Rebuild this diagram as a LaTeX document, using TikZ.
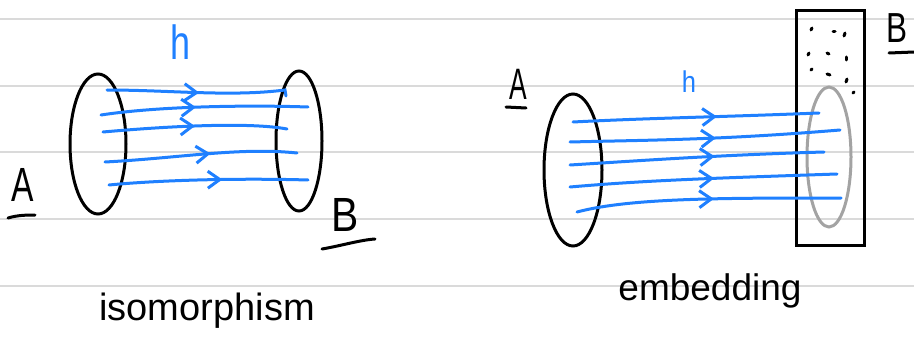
\documentclass[tikz,border=0pt]{standalone}
\usepackage{fontspec}
\setmainfont{Liberation Sans}
\usetikzlibrary{shapes.geometric,arrows.meta,decorations.markings}
\definecolor{penblue}{HTML}{1F80FF}
\definecolor{ruleclr}{HTML}{DADADA}
\definecolor{pengray}{HTML}{A3A3A3}
\tikzset{
  ruleline/.style={ruleclr,line width=1.3pt},
  ink/.style={draw=black,line width=3pt,line cap=round},
  setshape/.style={ellipse,draw=black,line width=3pt,inner sep=0pt},
  mapline/.style={penblue,line width=3pt,line cap=round,postaction={decorate},
    decoration={markings,mark=at position #1 with {\arrow{Straight Barb[length=12pt,width=17pt,line width=3pt]}}}},
  mapline/.default=0.5,
  bluelabel/.style={text=penblue,inner sep=0pt},
  blacklabel/.style={text=black,inner sep=0pt},
  speck/.style={black,line width=3pt,line cap=round},
}
\begin{document}
\begin{tikzpicture}[x=1pt,y=-1pt]
\useasboundingbox (0,0) rectangle (914,345);
\fill[white] (0,0) rectangle (914,345);
% ruled paper
\foreach \yy in {19,86,152,219,286} \draw[ruleline] (0,\yy) -- (914,\yy);

% ---------- isomorphism ----------
\node[setshape,minimum width=56pt,minimum height=140pt] (A1) at (98,144) {};
\node[setshape,minimum width=46pt,minimum height=140pt] (B1) at (299,141) {};
\coordinate (a11) at (107,90);  \coordinate (b11) at (285,90);
\coordinate (a12) at (101,115); \coordinate (b12) at (308,107);
\coordinate (a13) at (103,132); \coordinate (b13) at (287,129);
\coordinate (a14) at (105,162); \coordinate (b14) at (297,153);
\coordinate (a15) at (109,185); \coordinate (b15) at (308,180);
\draw[mapline=0.5] (a11) .. controls (170,90) and (230,97) .. (b11) -- ++(1,6);
\draw[mapline=0.46] (a12) .. controls (160,106) and (250,105) .. (b12);
\draw[mapline=0.5] (a13) .. controls (170,126) and (250,122) .. (b13);
\draw[mapline=0.55] (a14) .. controls (180,158) and (240,147) .. (b14);
\draw[mapline=0.57] (a15) .. controls (160,180) and (240,178) .. (b15);
\node[bluelabel,font=\fontsize{48}{48}\selectfont,xscale=0.75] (h1) at (181,42) {h};
\node[blacklabel,font=\fontsize{48}{48}\selectfont,xscale=0.7] (lA1) at (23,185) {A};
\draw[ink] (8,218) .. controls (18,215) and (28,215) .. (35,215);
\node[blacklabel,font=\fontsize{48}{48}\selectfont,xscale=0.85] (lB1) at (345,215) {B};
\draw[ink] (322,249) .. controls (340,246) and (360,240) .. (375,239);
\node[blacklabel,font=\fontsize{38}{38}\selectfont,anchor=base] (t1) at (207,320) {isomorphism};

% ---------- embedding ----------
\node[draw=black,line width=3pt,minimum width=68pt,minimum height=234pt,inner sep=0pt] (Bbox) at (830,128) {};
\node[ellipse,draw=pengray,line width=3pt,inner sep=0pt,minimum width=44pt,minimum height=140pt] (B2) at (829,157) {};
\node[setshape,minimum width=58pt,minimum height=152pt] (A2) at (573,170) {};
\foreach \x/\y/\dx/\dy in {812/28/-1/2, 833/32/2/0, 845/33/-1/3, 809/53/-1/2, 827/53/2/1, 846/57/0/3, 812/69/-1/1, 827/74/3/1, 847/79/-1/3, 854/92/-1/1}
  \draw[speck] (\x,\y) -- ++(\dx,\dy);
\coordinate (a21) at (573,122); \coordinate (b21) at (819,113);
\coordinate (a22) at (570,142); \coordinate (b22) at (840,130);
\coordinate (a23) at (570,165); \coordinate (b23) at (824,152);
\coordinate (a24) at (570,187); \coordinate (b24) at (837,174);
\coordinate (a25) at (577,212); \coordinate (b25) at (841,198);
\draw[mapline=0.585] (a21) .. controls (650,118) and (720,117) .. (b21);
\draw[mapline=0.54] (a22) .. controls (650,140) and (720,140) .. (b22);
\draw[mapline=0.57] (a23) .. controls (650,160) and (720,155) .. (b23);
\draw[mapline=0.54] (a24) .. controls (650,180) and (720,178) .. (b24);
\draw[mapline=0.52] (a25) .. controls (630,198) and (720,198) .. (b25);
\node[bluelabel,font=\fontsize{30}{30}\selectfont,xscale=0.85] (h2) at (689,82) {h};
\node[blacklabel,font=\fontsize{44}{44}\selectfont,xscale=0.6] (lA2) at (518,84) {A};
\draw[ink] (506,107) -- (526,108);
\node[blacklabel,font=\fontsize{42}{42}\selectfont,xscale=0.75] (lB2) at (897,28) {B};
\draw[ink] (889,53) -- (914,52);
\node[blacklabel,font=\fontsize{37}{37}\selectfont,anchor=base] (t2) at (710,300) {embedding};
\end{tikzpicture}
\end{document}
